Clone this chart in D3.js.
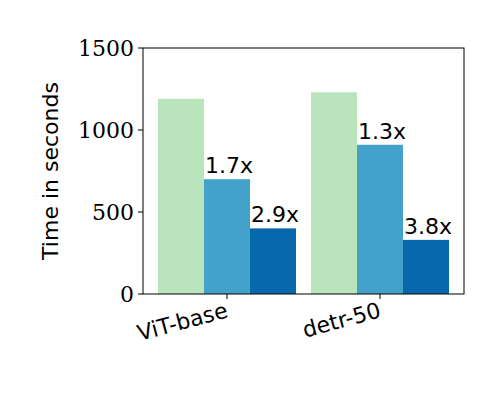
<!DOCTYPE html>
<html><head><meta charset="utf-8">
<script src="https://cdn.jsdelivr.net/npm/d3@7"></script>
<style>body{margin:0;background:#fff}</style>
</head><body><svg width="500" height="400"></svg>
<script>
// Data
var categories = ["ViT-base", "detr-50"];
var seriesKeys = ["base", "opt1", "opt2"];
var seriesValues = [[1190, 700, 400], [1230, 910, 330]];
var speedups = [["", "1.7x", "2.9x"], ["", "1.3x", "3.8x"]];
var yTicks = [0, 500, 1000, 1500];
var colors = ["#bae4bc", "#43a2ca", "#0868ac"];

var svg = d3.select("svg");
var m = {left: 143, right: 464, top: 48, bottom: 294};

var x = d3.scaleBand().domain(categories).range([m.left, m.right])
  .paddingInner(0.098).paddingOuter(0.098);
var xs = d3.scaleBand().domain(seriesKeys).range([0, x.bandwidth()]);
var y = d3.scaleLinear().domain([0, 1500]).range([m.bottom, m.top]);

categories.forEach(function(c, i) {
  var g = svg.append("g").attr("transform", "translate(" + x(c) + ",0)");
  seriesKeys.forEach(function(k, j) {
    var v = seriesValues[i][j];
    g.append("rect").attr("x", xs(k)).attr("width", xs.bandwidth())
      .attr("y", y(v)).attr("height", y(0) - y(v)).attr("fill", colors[j]);
    if (speedups[i][j]) {
      g.append("text").attr("x", xs(k) + 1).attr("y", y(v) - 6)
        .attr("font-family", "DejaVu Sans").attr("font-size", 22)
        .text(speedups[i][j]);
    }
  });
});

// frame
svg.append("rect").attr("x", m.left).attr("y", m.top)
  .attr("width", m.right - m.left).attr("height", m.bottom - m.top)
  .attr("fill", "none").attr("stroke", "#000").attr("stroke-width", 1);

// y axis
yTicks.forEach(function(t) {
  svg.append("line").attr("x1", m.left - 5).attr("x2", m.left)
    .attr("y1", y(t)).attr("y2", y(t)).attr("stroke", "#000");
  svg.append("text").attr("x", m.left - 9).attr("y", y(t) + 8)
    .attr("text-anchor", "end").attr("font-family", "DejaVu Serif")
    .attr("font-size", 22).text(t);
});
svg.append("text").attr("transform", "translate(58," + ((m.top + m.bottom) / 2) + ") rotate(-90)")
  .attr("text-anchor", "middle").attr("font-family", "DejaVu Sans")
  .attr("font-size", 22).text("Time in seconds");

// x axis
categories.forEach(function(c) {
  var cx = x(c) + x.bandwidth() / 2;
  svg.append("line").attr("x1", cx).attr("x2", cx)
    .attr("y1", m.bottom).attr("y2", m.bottom + 5).attr("stroke", "#000");
  svg.append("text").attr("transform", "translate(" + (cx + 2) + "," + (m.bottom + 23) + ") rotate(-15)")
    .attr("text-anchor", "end").attr("font-family", "DejaVu Sans")
    .attr("font-size", 22).text(c);
});
</script></body></html>
